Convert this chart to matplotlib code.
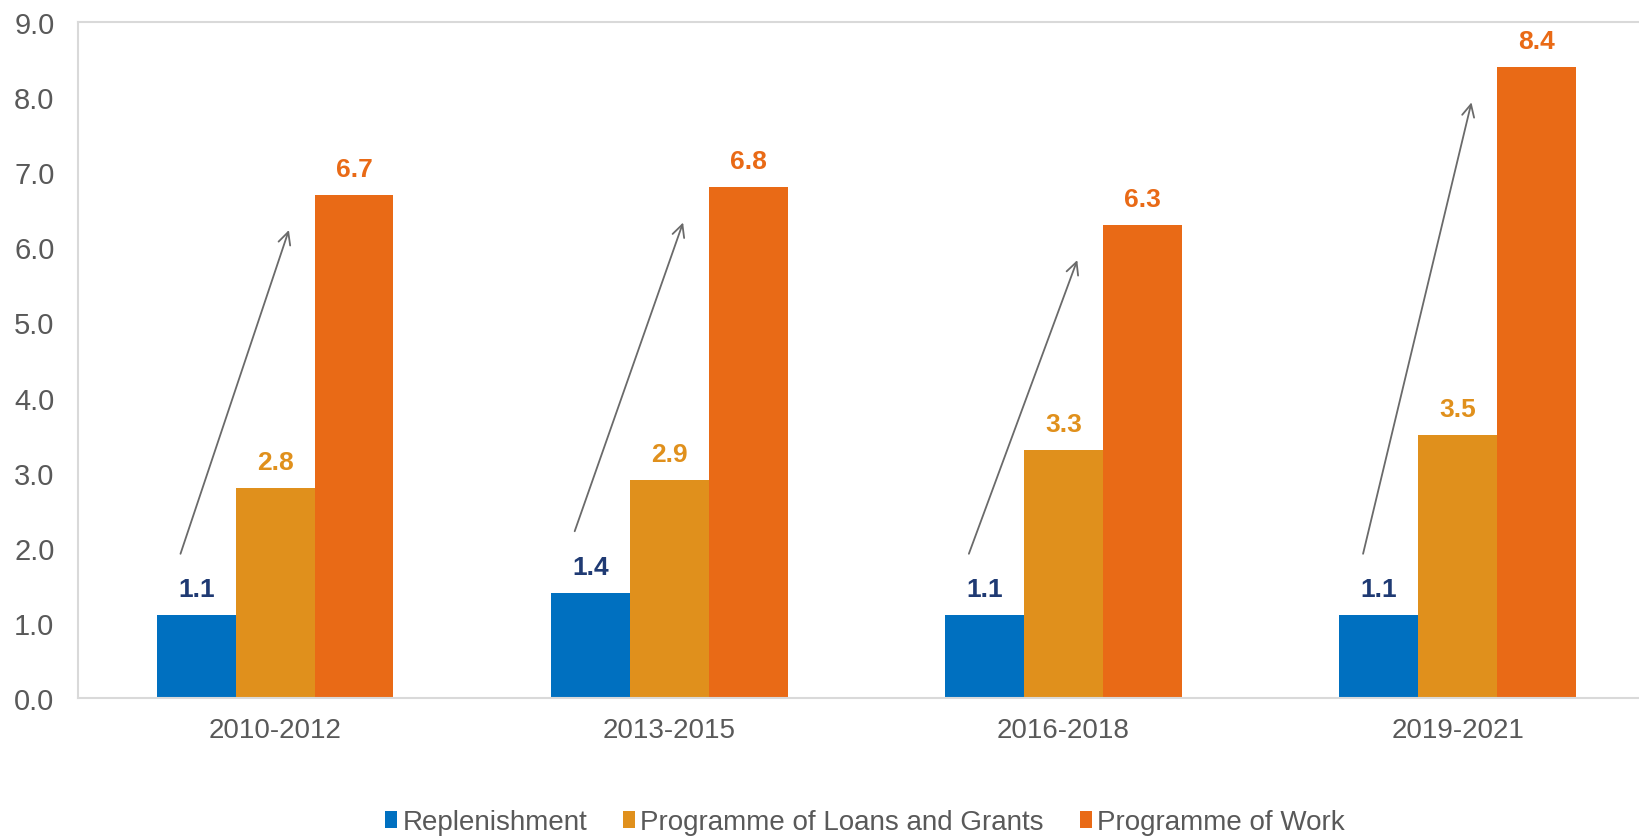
import matplotlib
matplotlib.use("Agg")
import matplotlib.pyplot as plt
from matplotlib.patches import Patch
import numpy as np

plt.rcParams['font.family'] = ['Liberation Sans', 'DejaVu Sans']

categories = ["2010-2012", "2013-2015", "2016-2018", "2019-2021"]
series_names = ["Replenishment", "Programme of Loans and Grants", "Programme of Work"]
replenishment = [1.1, 1.4, 1.1, 1.1]
loans_grants = [2.8, 2.9, 3.3, 3.5]
programme_work = [6.7, 6.8, 6.3, 8.4]
yticks = [0, 1, 2, 3, 4, 5, 6, 7, 8, 9]

bar_colors = ["#0070C0", "#E0901C", "#E96A16"]
label_colors = ["#1F3A73", "#E0901C", "#E96A16"]
grey = "#595959"
spine_c = "#D9D9D9"

fig = plt.figure(figsize=(16.39, 8.37), dpi=100)
ax = fig.add_axes([78/1639, 1-699/837, 1-78/1639, (699-23)/837])

x = np.arange(len(categories))
w = 0.2
all_series = [replenishment, loans_grants, programme_work]
for k, vals in enumerate(all_series):
    xs = x + (k - 1) * w
    ax.bar(xs, vals, width=w, color=bar_colors[k], linewidth=0, zorder=2)
    for xi, v in zip(xs, vals):
        ax.annotate(f"{v:.1f}", (xi, v), xytext=(0, 10), textcoords="offset points",
                    ha="center", va="bottom", fontsize=19, fontweight="bold",
                    color=label_colors[k])

# growth arrows from Replenishment to Programme of Work
for i in range(len(categories)):
    start = (x[i] - 0.24, replenishment[i] + 0.82)
    end = (x[i] + 0.035, programme_work[i] - 0.47)
    ax.annotate("", xy=end, xytext=start,
                arrowprops=dict(arrowstyle="->", color="#6a6a6a", lw=1.3,
                                mutation_scale=22, shrinkA=0, shrinkB=0))

ax.set_xlim(-0.5, 3.46)
ax.set_ylim(0, 9)
ax.set_yticks(yticks)
ax.set_yticklabels([f"{t:.1f}" for t in yticks])
ax.set_xticks(x)
ax.set_xticklabels(categories)
ax.tick_params(axis="y", length=0, pad=17, labelsize=21, labelcolor=grey)
ax.tick_params(axis="x", length=0, pad=14, labelsize=20, labelcolor=grey)
for s in ["left", "top", "bottom"]:
    ax.spines[s].set_color(spine_c)
    ax.spines[s].set_linewidth(1.5)
ax.spines["right"].set_visible(False)

handles = [Patch(facecolor=c, edgecolor="none") for c in bar_colors]
fig.legend(handles, series_names, loc="center", bbox_to_anchor=(865/1639, 1-823/837),
           ncol=3, frameon=False, fontsize=20, labelcolor=grey,
           handlelength=0.42, handleheight=0.55, handletextpad=0.2, columnspacing=1.3)

fig.savefig("out.png", dpi=100)
